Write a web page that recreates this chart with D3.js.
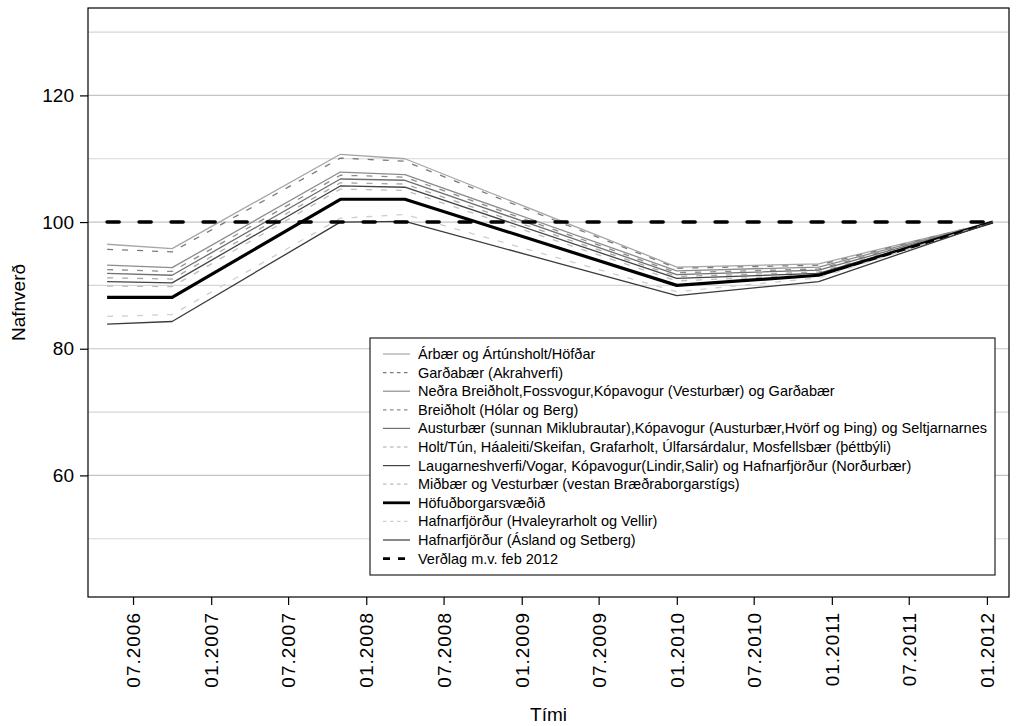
<!DOCTYPE html>
<html>
<head>
<meta charset="utf-8">
<script src="https://cdn.jsdelivr.net/npm/d3@7"></script>
<style>
  body { margin: 0; background: #fff; }
  svg { display: block; }
  text { font-family: "Liberation Sans", Arial, Helvetica, sans-serif; fill: #000; }
</style>
</head>
<body>
<svg id="chart" width="1020" height="726"></svg>
<script>
// Observation dates (price index measurements)
const dates = ["2006-05-01", "2006-10-01", "2007-11-01", "2008-04-01", "2010-01-01", "2010-12-01", "2012-01-15"];

// Nominal price index per area, Feb 2012 = 100
const arbaer        = [96.5, 95.8, 110.7, 110.0, 92.9, 93.4, 100];
const gardabaerAkra = [95.7, 95.3, 110.1, 109.6, 92.7, 93.2, 100];
const nedraBreidh   = [93.2, 92.8, 107.9, 107.5, 92.3, 92.9, 100];
const breidholt     = [92.5, 92.2, 107.4, 107.1, 92.0, 92.6, 100];
const austurbaer    = [91.9, 91.6, 106.8, 106.6, 91.7, 92.4, 100];
const holtTun       = [91.2, 91.0, 106.2, 106.0, 91.4, 92.1, 100];
const laugarnes     = [90.6, 90.4, 105.7, 105.5, 91.1, 91.9, 100];
const midbaer       = [89.9, 89.8, 105.2, 105.0, 90.7, 91.7, 100];
const hofudborg     = [88.1, 88.1, 103.6, 103.6, 90.0, 91.6, 100];
const hafnHvaley    = [85.1, 85.4, 100.6, 101.2, 89.0, 91.2, 100];
const hafnAsland    = [83.9, 84.3, 100.0, 100.1, 88.4, 90.6, 100];
const verdlag       = [100, 100, 100, 100, 100, 100, 100];

const seriesNames = [
  "Árbær og Ártúnsholt/Höfðar",
  "Garðabær (Akrahverfi)",
  "Neðra Breiðholt,Fossvogur,Kópavogur (Vesturbær) og Garðabær",
  "Breiðholt (Hólar og Berg)",
  "Austurbær (sunnan Miklubrautar),Kópavogur (Austurbær,Hvörf og Þing) og Seltjarnarnes",
  "Holt/Tún, Háaleiti/Skeifan, Grafarholt, Úlfarsárdalur, Mosfellsbær (þéttbýli)",
  "Laugarneshverfi/Vogar, Kópavogur(Lindir,Salir) og Hafnarfjörður (Norðurbær)",
  "Miðbær og Vesturbær (vestan Bræðraborgarstígs)",
  "Höfuðborgarsvæðið",
  "Hafnarfjörður (Hvaleyrarholt og Vellir)",
  "Hafnarfjörður (Ásland og Setberg)",
  "Verðlag m.v. feb 2012"
];
const seriesValues = [arbaer, gardabaerAkra, nedraBreidh, breidholt, austurbaer, holtTun,
                      laugarnes, midbaer, hofudborg, hafnHvaley, hafnAsland, verdlag];

const xTickLabels = ["07.2006", "01.2007", "07.2007", "01.2008", "07.2008", "01.2009",
                     "07.2009", "01.2010", "07.2010", "01.2011", "07.2011", "01.2012"];
const yTickValues = [60, 80, 100, 120];
const gridValues  = [50, 60, 70, 80, 90, 100, 110, 120, 130];

// Line styling per series (colour, width, dash in plot)
const styles = [
  { color: "#a6a6a6", width: 1.3, dash: null },
  { color: "#7a7a7a", width: 1.3, dash: "6,9" },
  { color: "#8c8c8c", width: 1.3, dash: null },
  { color: "#8c8c8c", width: 1.3, dash: "6,9" },
  { color: "#707070", width: 1.3, dash: null },
  { color: "#a6a6a6", width: 1.3, dash: "6,9" },
  { color: "#444444", width: 1.3, dash: null },
  { color: "#bdbdbd", width: 1.3, dash: "6,9" },
  { color: "#000000", width: 3.2, dash: null },
  { color: "#cfcfcf", width: 1.3, dash: "6,9" },
  { color: "#3a3a3a", width: 1.3, dash: null },
  { color: "#000000", width: 3.6, dash: "12,20", cap: "round" }
];

const parseDay = d3.timeParse("%Y-%m-%d");
const parseTick = d3.timeParse("%m.%Y");
const xDates = dates.map(parseDay);

const svg = d3.select("#chart");
const plot = { left: 88, right: 1009, top: 8, bottom: 597 };
const fontFamily = "'Liberation Sans', Arial, sans-serif";

const x = d3.scaleTime()
  .domain([new Date(2006, 2, 17), new Date(2012, 1, 22)])
  .range([plot.left, plot.right]);
const y = d3.scaleLinear()
  .domain([40.8, 133.8])
  .range([plot.bottom, plot.top]);

// horizontal grid
svg.append("g").selectAll("line")
  .data(gridValues)
  .join("line")
  .attr("x1", plot.left).attr("x2", plot.right)
  .attr("y1", d => y(d)).attr("y2", d => y(d))
  .attr("stroke", d => d % 20 === 0 ? "#c4c4c4" : "#d6d6d6")
  .attr("stroke-width", 1.2);

// series lines
const line = d3.line()
  .x((d, i) => x(xDates[i]))
  .y(d => y(d));

svg.append("g").selectAll("path")
  .data(seriesValues)
  .join("path")
  .attr("d", d => line(d))
  .attr("fill", "none")
  .attr("stroke", (d, i) => styles[i].color)
  .attr("stroke-width", (d, i) => styles[i].width)
  .attr("stroke-dasharray", (d, i) => styles[i].dash)
  .attr("stroke-linecap", (d, i) => styles[i].cap || "butt")
  .attr("stroke-linejoin", "round");

// plot frame
svg.append("rect")
  .attr("x", plot.left).attr("y", plot.top)
  .attr("width", plot.right - plot.left).attr("height", plot.bottom - plot.top)
  .attr("fill", "none").attr("stroke", "#000").attr("stroke-width", 1.2);

// y axis
const yAxis = d3.axisLeft(y).tickValues(yTickValues).tickSize(8).tickPadding(6);
const gy = svg.append("g").attr("transform", `translate(${plot.left},0)`).call(yAxis);
gy.select(".domain").remove();
gy.selectAll("line").attr("stroke", "#000").attr("stroke-width", 1.2);
gy.selectAll("text").attr("font-size", 19).attr("fill", "#000")
  .style("font-family", fontFamily);

// x axis
const xAxis = d3.axisBottom(x)
  .tickValues(xTickLabels.map(parseTick))
  .tickFormat(d3.timeFormat("%m.%Y"))
  .tickSize(8);
const gx = svg.append("g").attr("transform", `translate(0,${plot.bottom})`).call(xAxis);
gx.select(".domain").remove();
gx.selectAll("line").attr("stroke", "#000").attr("stroke-width", 1.2);
gx.selectAll("text")
  .attr("font-size", 19).attr("fill", "#000")
  .style("font-family", fontFamily)
  .style("letter-spacing", "1px")
  .attr("transform", "rotate(-90)")
  .attr("text-anchor", "end")
  .attr("x", -15).attr("y", 0).attr("dy", "0.35em");

// axis titles
svg.append("text")
  .attr("x", (plot.left + plot.right) / 2).attr("y", 721)
  .attr("text-anchor", "middle").attr("font-size", 19)
  .text("Tími");
svg.append("text")
  .attr("transform", `translate(25,${(plot.top + plot.bottom) / 2}) rotate(-90)`)
  .attr("text-anchor", "middle").attr("font-size", 19)
  .text("Nafnverð");

// legend
const lg = { x: 370, y: 338, w: 625, h: 237, row0: 354, rowH: 18.6 };
const legend = svg.append("g");
legend.append("rect")
  .attr("x", lg.x).attr("y", lg.y).attr("width", lg.w).attr("height", lg.h)
  .attr("fill", "#fff").attr("stroke", "#222").attr("stroke-width", 1.2);
const rows = legend.selectAll("g.row")
  .data(seriesNames)
  .join("g")
  .attr("class", "row")
  .attr("transform", (d, i) => `translate(0,${lg.row0 + i * lg.rowH})`);
rows.append("line")
  .attr("x1", 383).attr("x2", 410).attr("y1", 0).attr("y2", 0)
  .attr("stroke", (d, i) => styles[i].color)
  .attr("stroke-width", (d, i) => (i === 8 || i === 11) ? 2.8 : 1.2)
  .attr("stroke-dasharray", (d, i) => i === 11 ? "7,8" : (styles[i].dash ? "3.5,3.5" : null));
rows.append("text")
  .attr("x", 418).attr("y", 0).attr("dy", "0.35em")
  .attr("font-size", 14.5)
  .text(d => d);
</script>
</body>
</html>
